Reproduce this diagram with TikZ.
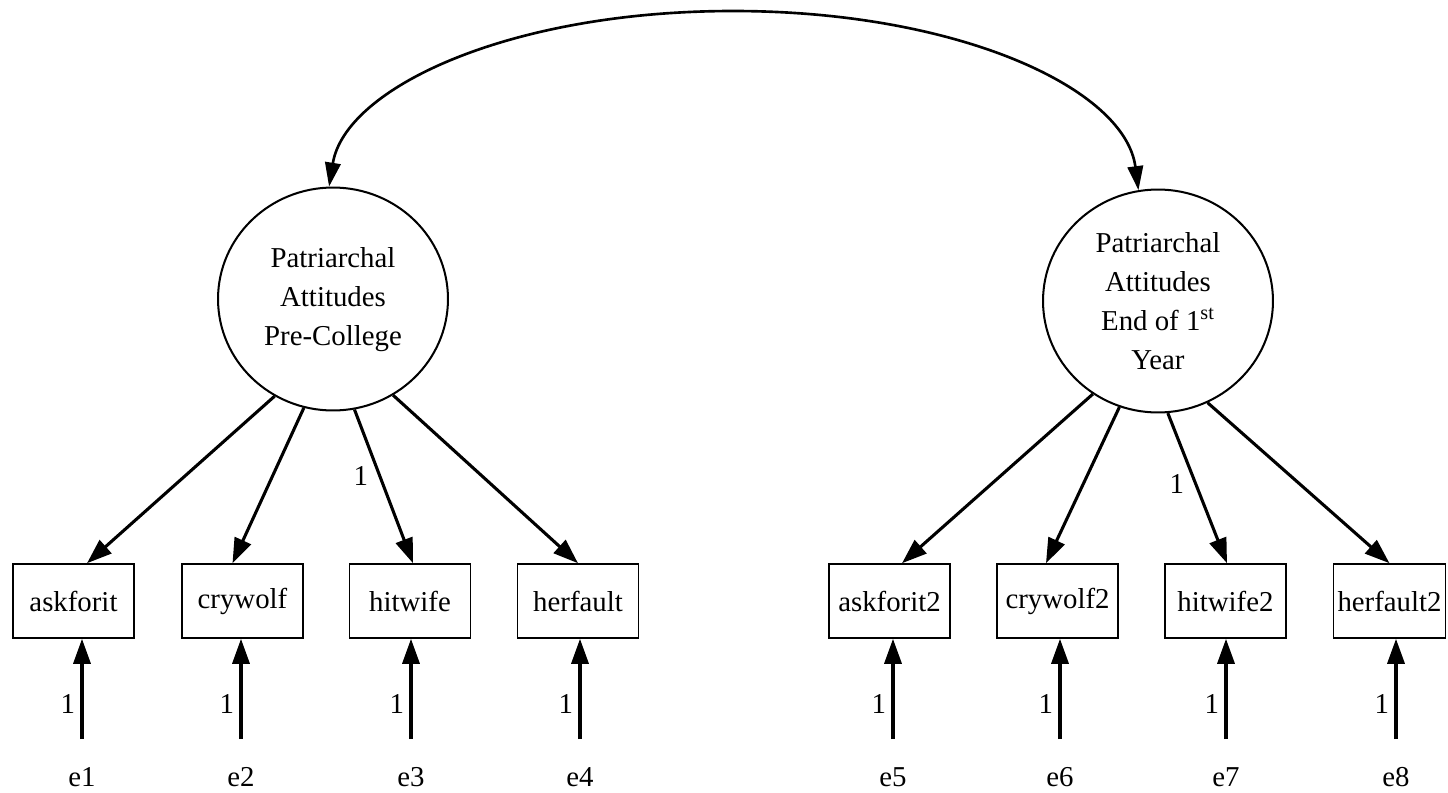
\documentclass[tikz,border=0pt]{standalone}
\usepackage{fontspec}
\setmainfont{Liberation Serif}
\usetikzlibrary{shapes.geometric,arrows.meta,calc}
\begin{document}
\begin{tikzpicture}[x=0.02cm,y=-0.02cm,
  every node/.style={font=\fontsize{16.4}{22.2}\selectfont},
  latent/.style={ellipse,draw,line width=1.15pt,minimum width=4.6cm,
    minimum height=4.46cm,inner sep=0pt,align=center},
  obs/.style={rectangle,draw,line width=0.9pt,minimum width=2.42cm,
    minimum height=1.48cm,inner sep=0pt},
  loadarr/.style={line width=1.75pt,-{Triangle[length=0.5cm,width=0.35cm]}},
  errarr/.style={line width=1.9pt,-{Triangle[length=0.5cm,width=0.34cm]}},
  covarr/.style={line width=1.5pt,{Triangle[length=0.48cm,width=0.31cm]}-{Triangle[length=0.48cm,width=0.31cm]}},
  wlabel/.style={anchor=east,inner sep=0pt,xshift=-0.2cm},
  ulabel/.style={pos=0.35,left,inner sep=3pt},
]
\useasboundingbox (0,0) rectangle (1448,792);

% latent factors
\node[latent] (lat1) at (333,299)
  {\raisebox{-0.1cm}{\begin{tabular}{@{}c@{}}Patriarchal\\Attitudes\\Pre-College\end{tabular}}};
\node[latent] (lat2) at (1158,301) {Patriarchal\\Attitudes\\End of 1\textsuperscript{st}\\Year};

% observed indicators
\node[obs] (ask)  at (73.5,601)  {askforit};
\node[obs] (cry)  at (242.5,601) {crywolf};
\node[obs] (hit)  at (410,601)   {hitwife};
\node[obs] (her)  at (578,601)   {herfault};
\node[obs] (ask2) at (889.5,601) {askforit2};
\node[obs] (cry2) at (1057.5,601){crywolf2};
\node[obs] (hit2) at (1225.5,601){hitwife2};
\node[obs,minimum width=2.24cm] (her2) at (1389.5,601){herfault2};

% error terms
\node (e1) at (82,777)   {e1};
\node (e2) at (241,777)  {e2};
\node (e3) at (411,777)  {e3};
\node (e4) at (580,777)  {e4};
\node (e5) at (893,777)  {e5};
\node (e6) at (1060,777) {e6};
\node (e7) at (1226,777) {e7};
\node (e8) at (1396,777) {e8};

% covariance between the factors
\coordinate (arcTop) at (733,11);
\draw[covarr] (lat1.92) .. controls (345,88) and (509,11) .. (arcTop)
  .. controls (957,11) and (1125,88) .. (lat2.100);

% factor loadings
\draw[loadarr] (lat1.239) -- ($(ask.north)+(13.5,0)$);
\draw[loadarr] (lat1.255) -- ($(cry.north)+(-10,0)$);
\draw[loadarr] (lat1.281) -- node[pos=0.43,wlabel] {1} ($(hit.north)+(3,0)$);
\draw[loadarr] (lat1.302) -- (her.north);
\draw[loadarr] (lat2.235) -- ($(ask2.north)+(12.5,0)$);
\draw[loadarr] (lat2.250) -- ($(cry2.north)+(-11.5,0)$);
\draw[loadarr] (lat2.275) -- node[pos=0.47,wlabel] {1} ($(hit2.north)+(1.5,0)$);
\draw[loadarr] (lat2.296) -- (her2.north);

% error paths
\foreach \e/\v in {e1/ask,e2/cry,e3/hit,e4/her,e5/ask2,e6/cry2,e7/hit2,e8/her2}
  \draw[errarr] ($(\e)+(0,-38)$) -- node[ulabel] {1} (\e |- \v.south);
\end{tikzpicture}
\end{document}
